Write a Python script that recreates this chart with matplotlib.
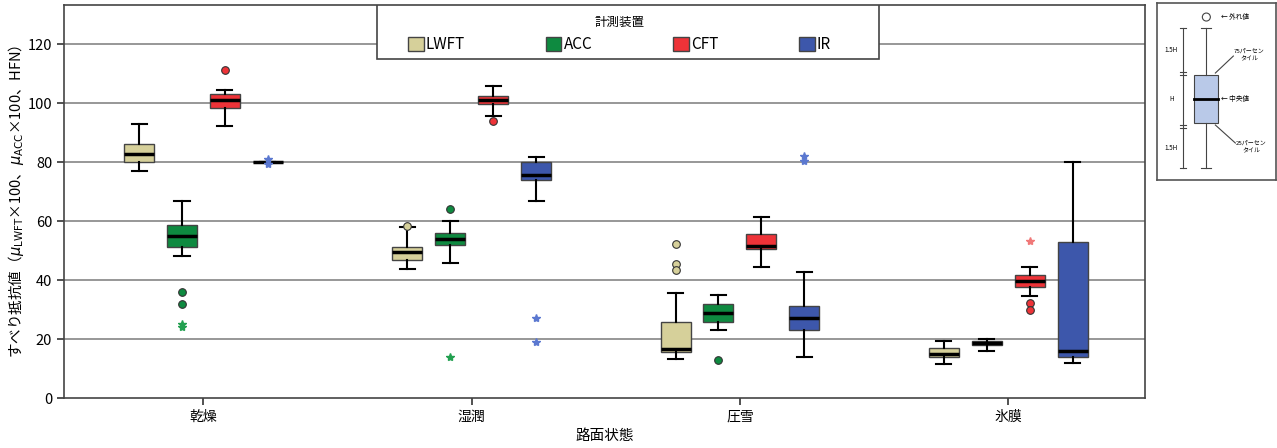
import numpy as np
import matplotlib
matplotlib.use("Agg")
from matplotlib import pyplot as plt
from matplotlib.patches import Patch, Rectangle, Circle

plt.rcParams['font.family'] = ['Noto Sans CJK JP', 'DejaVu Sans']
plt.rcParams['mathtext.fontset'] = 'dejavusans'

conditions = ['乾燥', '湿潤', '圧雪', '氷膜']
devices = ['LWFT', 'ACC', 'CFT', 'IR']

# box stats per device, one value per road condition
lwft_whishi = [92.9, 58.0, 35.6, 19.4]
lwft_q3 = [86.3, 51.3, 25.8, 16.9]
lwft_med = [82.6, 49.4, 16.6, 14.8]
lwft_q1 = [79.9, 46.7, 15.6, 13.9]
lwft_whislo = [77.0, 43.7, 13.3, 11.5]
lwft_out = [[], [58.5], [52.1, 45.4, 43.4], []]
lwft_ext = [[], [], [], []]

acc_whishi = [66.8, 59.9, 34.8, 20.0]
acc_q3 = [58.7, 55.9, 32.0, 19.4]
acc_med = [55.0, 53.9, 28.9, 18.7]
acc_q1 = [51.3, 51.9, 25.7, 18.1]
acc_whislo = [48.0, 45.9, 23.0, 16.0]
acc_out = [[35.8, 32.0], [64.1], [12.9], []]
acc_ext = [[25.0, 24.2], [14.0], [], []]

cft_whishi = [104.4, 105.8, 61.5, 44.3]
cft_q3 = [103.2, 102.6, 55.5, 41.7]
cft_med = [101.1, 101.1, 51.7, 39.8]
cft_q1 = [98.2, 99.6, 50.5, 37.7]
cft_whislo = [92.1, 95.6, 44.4, 34.6]
cft_out = [[111.1], [93.9], [], [32.3, 29.7]]
cft_ext = [[], [], [], [53.3]]

ir_whishi = [80.0, 81.7, 42.7, 80.0]
ir_q3 = [80.0, 79.9, 31.1, 52.9]
ir_med = [80.0, 75.8, 27.0, 15.9]
ir_q1 = [80.0, 73.8, 23.0, 14.0]
ir_whislo = [80.0, 66.8, 13.9, 12.0]
ir_out = [[], [], [], []]
ir_ext = [[80.9, 79.4], [27.0, 19.1], [82.0, 80.3], []]

yticks = [0, 20, 40, 60, 80, 100, 120]

colors = ['#d6d09a', '#0e8a40', '#ee3338', '#3d57ab']
star_colors = ['#c8c080', '#22a050', '#f07878', '#5b78d0']

table = [
    (lwft_whislo, lwft_q1, lwft_med, lwft_q3, lwft_whishi, lwft_out, lwft_ext),
    (acc_whislo, acc_q1, acc_med, acc_q3, acc_whishi, acc_out, acc_ext),
    (cft_whislo, cft_q1, cft_med, cft_q3, cft_whishi, cft_out, cft_ext),
    (ir_whislo, ir_q1, ir_med, ir_q3, ir_whishi, ir_out, ir_ext),
]

offsets = [-0.24, -0.08, 0.08, 0.24]
width = 0.112

fig = plt.figure(figsize=(12.77, 4.48), dpi=100)
ax = fig.add_axes([0.0501, 0.1116, 0.8465, 0.8772])

for yt in yticks[1:]:
    ax.axhline(yt, color='#7a7a7a', lw=1.1, zorder=0)

for j, (lo, q1, med, q3, hi, out, ext) in enumerate(table):
    stats = []
    for i in range(len(conditions)):
        stats.append(dict(whislo=lo[i], q1=q1[i], med=med[i], q3=q3[i],
                          whishi=hi[i], fliers=out[i]))
    pos = [i + offsets[j] for i in range(len(conditions))]
    ax.bxp(stats, positions=pos, widths=width, patch_artist=True,
           showfliers=True, capwidths=width * 0.5,
           boxprops=dict(facecolor=colors[j], edgecolor='#444444', lw=1.0),
           medianprops=dict(color='black', lw=2.5),
           whiskerprops=dict(color='black', lw=1.5),
           capprops=dict(color='black', lw=1.5),
           flierprops=dict(marker='o', markerfacecolor=colors[j],
                           markeredgecolor='#333333', markersize=5.5, mew=0.8))
    for i in range(len(conditions)):
        if ext[i]:
            ax.plot([pos[i]] * len(ext[i]), ext[i], ls='none', marker='*',
                    color=star_colors[j], markersize=6, zorder=3)

ax.set_xlim(-0.52, 3.51)
ax.set_ylim(0, 133.3)
ax.set_xticks(range(len(conditions)))
ax.set_xticklabels(conditions, fontsize=10)
ax.set_yticks(yticks)
ax.set_yticklabels([str(v) for v in yticks], fontsize=10.5)
ax.tick_params(axis='both', length=5, width=1.2, color='#333333')
for sp in ax.spines.values():
    sp.set_color('#444444')
    sp.set_linewidth(1.2)

ax.set_xlabel('路面状態', fontsize=10.5, labelpad=4)
ax.set_ylabel('すべり抵抗値（$\\mu_{\\mathrm{LWFT}}$×100、$\\mu_{\\mathrm{ACC}}$×100、HFN）',
              fontsize=10.5, labelpad=1)

# legend frame drawn by hand so the entries sit like the original
ax.add_patch(Rectangle((0.2895, 0.8626), 0.4644, 0.1374, transform=ax.transAxes,
                       facecolor='white', edgecolor='#444444', lw=1.2, zorder=5))
handles = [Patch(facecolor=colors[j], edgecolor='#444444', lw=1.0)
           for j in range(len(devices))]
leg = ax.legend(handles, devices, title='計測装置', ncol=4,
                loc='upper center', bbox_to_anchor=(0.514, 1.0),
                fontsize=11, title_fontsize=9, frameon=False,
                handlelength=1.0, handleheight=1.0, handletextpad=0.15,
                columnspacing=5.3, borderaxespad=0.3)
leg.set_zorder(6)

# explanatory box-plot diagram on the right
ins = fig.add_axes([0.9063, 0.5982, 0.0932, 0.395])
ins.set_xlim(0, 119)
ins.set_ylim(177, 0)
ins.set_xticks([])
ins.set_yticks([])
for sp in ins.spines.values():
    sp.set_color('#555555')
    sp.set_linewidth(1.2)
ins.plot([49, 49], [25, 72], color='#444444', lw=0.8)
ins.plot([49, 49], [120, 165], color='#444444', lw=0.8)
ins.plot([44, 54], [25, 25], color='#444444', lw=0.8)
ins.plot([44, 54], [165, 165], color='#444444', lw=0.8)
ins.add_patch(Rectangle((37, 72), 24, 48, facecolor='#b9c9e8', edgecolor='#444444', lw=0.8))
ins.plot([37, 61], [96, 96], color='black', lw=2)
ins.add_patch(Circle((49, 14), 4, facecolor='white', edgecolor='#444444', lw=0.8))
ins.plot([26, 26], [25, 165], color='#444444', lw=0.8)
for yy in [25, 69, 72, 122, 125, 165]:
    ins.plot([23, 29], [yy, yy], color='#444444', lw=0.8)
ins.text(14, 47, '1.5H', fontsize=4.5, ha='center', va='center')
ins.text(14, 96, 'H', fontsize=4.5, ha='center', va='center')
ins.text(14, 145, '1.5H', fontsize=4.5, ha='center', va='center')
ins.text(64, 14, '← 外れ値', fontsize=4.8, ha='left', va='center')
ins.text(64, 96, '← 中央値', fontsize=4.8, ha='left', va='center')
ins.plot([58, 76], [70, 53], color='#444444', lw=0.8)
ins.plot([58, 78], [122, 140], color='#444444', lw=0.8)
ins.text(92, 52, '75パーセン\nタイル', fontsize=4.3, ha='center', va='center', linespacing=1.6)
ins.text(94, 144, '25パーセン\nタイル', fontsize=4.3, ha='center', va='center', linespacing=1.6)

fig.savefig('out.png', dpi=100)
